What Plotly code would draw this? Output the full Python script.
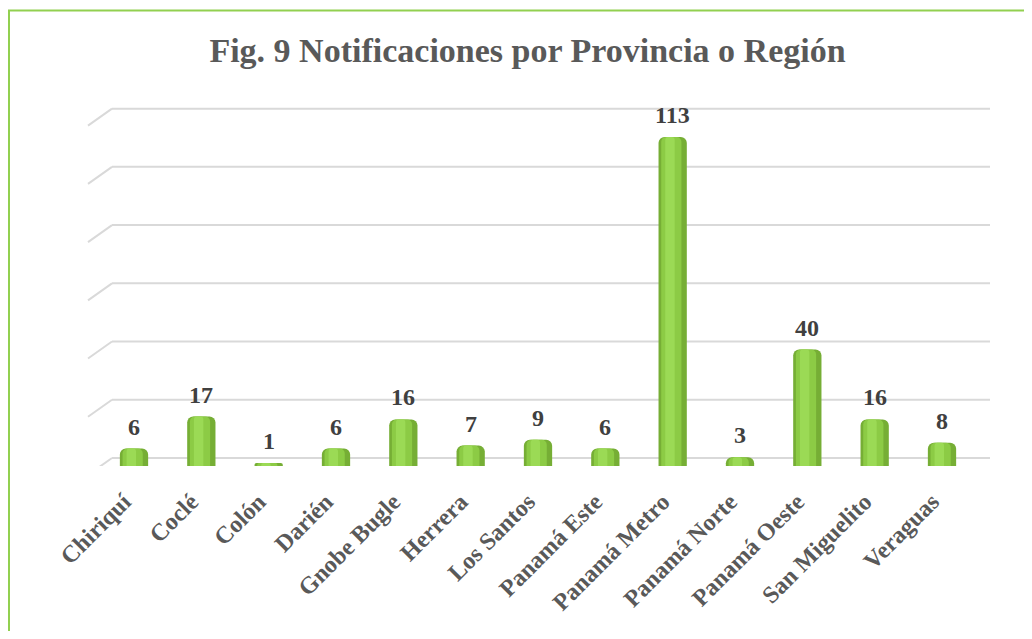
import plotly.graph_objects as go

# Notificaciones por provincia / región
provincias = [
    "Chiriquí", "Coclé", "Colón", "Darién", "Gnobe Bugle", "Herrera",
    "Los Santos", "Panamá Este", "Panamá Metro", "Panamá Norte",
    "Panamá Oeste", "San Miguelito", "Veraguas",
]
notificaciones = [6, 17, 1, 6, 16, 7, 9, 6, 113, 3, 40, 16, 8]
ticks_y = [0, 20, 40, 60, 80, 100, 120]

# la página tiene 8 px de margen en el body: la figura empieza en (8, 8)
W, H = 1016, 623
# área de trazado en píxeles de la figura
L, R, T, B = 104, 982, 97, 458
Y_MAX = 124
SERIF = "Liberation Serif, DejaVu Serif, serif"

px_unidad = (B - T) / Y_MAX
fondo = 8 / px_unidad      # desplazamiento de la pared del fondo (3D)
diag = 17 / px_unidad      # caída del trazo diagonal de la pared lateral

fig = go.Figure()

# cilindro: cuerpo oscuro + dos franjas más claras para simular el volumen
fig.add_trace(
    go.Bar(
        x=provincias,
        y=notificaciones,
        width=0.42,
        marker=dict(color="#76AE35", line=dict(width=0), cornerradius=6),
        hoverinfo="skip",
        showlegend=False,
    )
)
fig.add_trace(
    go.Bar(
        x=provincias,
        y=notificaciones,
        width=0.3,
        offset=-0.17,
        marker=dict(color="#8CCB45", line=dict(width=0), cornerradius=5),
        hoverinfo="skip",
        showlegend=False,
    )
)
fig.add_trace(
    go.Bar(
        x=provincias,
        y=notificaciones,
        width=0.14,
        offset=-0.11,
        marker=dict(color="#9BDA55", line=dict(width=0), cornerradius=3),
        hoverinfo="skip",
        showlegend=False,
    )
)

# etiquetas de valor sobre cada cilindro
for prov, val in zip(provincias, notificaciones):
    fig.add_annotation(
        x=prov, y=val,
        text=f"<b>{val}</b>",
        showarrow=False,
        yanchor="bottom",
        yshift=7,
        font=dict(family=SERIF, size=24, color="#404040"),
    )

# rango x: primera barra en px 126, separación 67.33 px
paso = (934 - 126) / 12
x0 = (L - 126) / paso
x1 = (R - 126) / paso

# líneas de la pared del fondo + trazos diagonales de la pared lateral
for t in ticks_y:
    fig.add_shape(
        type="line", xref="paper", yref="y",
        x0=0, x1=1, y0=t + fondo, y1=t + fondo,
        line=dict(color="#D9D9D9", width=2), layer="below",
    )
    fig.add_shape(
        type="line", xref="paper", yref="y",
        x0=(80 - L) / (R - L), x1=0,
        y0=t + fondo - diag, y1=t + fondo,
        line=dict(color="#D9D9D9", width=2), layer="below",
    )

# marco verde del gráfico (recortado por la derecha y abajo)
fig.add_shape(
    type="rect",
    xref="paper", yref="paper",
    x0=(1 - L) / (R - L), x1=(W + 20 - L) / (R - L),
    y0=(B - H - 20) / (B - T), y1=(B - 2.5) / (B - T),
    line=dict(color="#92D050", width=2),
    fillcolor="rgba(0,0,0,0)",
)

fig.update_xaxes(
    range=[x0, x1],
    tickangle=-45,
    tickfont=dict(family=SERIF, size=24, color="#595959", weight="bold"),
    ticklabelstandoff=16,
    ticklabelshift=-10,
    showgrid=False,
    showline=False,
    zeroline=False,
    ticks="",
)
fig.update_yaxes(
    range=[0, Y_MAX],
    showticklabels=False,
    showgrid=False,
    zeroline=False,
    showline=False,
)

fig.update_layout(
    width=W,
    height=H,
    barmode="overlay",
    title=dict(
        text="<b>Fig. 9 Notificaciones por Provincia o Región</b>",
        x=519.5 / W,
        xanchor="center",
        y=1 - 42 / H,
        yanchor="middle",
        font=dict(family=SERIF, size=34, color="#595959"),
    ),
    margin=dict(l=L, r=W - R, t=T, b=H - B, pad=0),
    paper_bgcolor="white",
    plot_bgcolor="white",
)

fig.write_html("out.html")
